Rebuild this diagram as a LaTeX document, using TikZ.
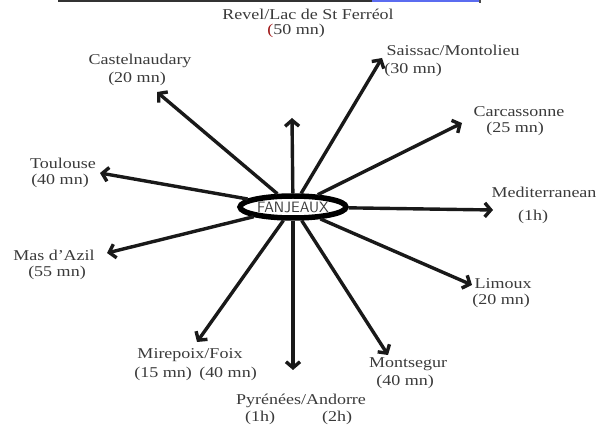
\documentclass[tikz,border=0pt]{standalone}
\usepackage{fontspec}
\setmainfont[FakeStretch=1.2]{Liberation Serif}
\usetikzlibrary{shapes.geometric,arrows.meta}
\definecolor{txt}{HTML}{3A3A3A}
\definecolor{topblue}{HTML}{5B6CF0}
\definecolor{redp}{HTML}{A01818}
\begin{document}
\begin{tikzpicture}[x=1pt,y=-1pt,
  lbl/.style={text=txt,font=\fontsize{15}{16}\selectfont,inner sep=0pt},
  arr/.style={line width=3.4pt,draw=black!90,-{Straight Barb[length=6pt,width=14pt]}},
  hub/.style={ellipse,draw=black,line width=5.5pt,minimum width=106pt,minimum height=22pt,inner sep=0pt,
    font=\sffamily\fontsize{15}{16}\selectfont,text=txt}]
\useasboundingbox (0,0) rectangle (598,427);
% top strip
\fill[black!80] (58,0) rectangle (372,1.6);
\fill[topblue] (372,0) rectangle (479,2.4);
\fill[black!70] (479,0) rectangle (481,3);
% tip coordinates
\coordinate (tRev) at (292,118);
\coordinate (tSai) at (382,58);
\coordinate (tCar) at (462,123);
\coordinate (tMed) at (493,210);
\coordinate (tLim) at (472,285);
\coordinate (tMon) at (388,355);
\coordinate (tPyr) at (293,370);
\coordinate (tMir) at (197,342);
\coordinate (tMas) at (107,253);
\coordinate (tTou) at (100,173);
\coordinate (tCas) at (157,92);
% hub
\node[hub] (F) at (293,207) {FANJEAUX};
\foreach \t in {Rev,Sai,Car,Med,Lim,Mon,Pyr,Mir,Mas,Tou,Cas}
  \draw[arr] (F) -- (t\t);
% labels
\node[lbl] (rev1) at (308,14) {Revel/Lac de St Ferréol};
\node[lbl] (rev2) at (296,31) {\textcolor{redp}{(}50 mn)};
\node[lbl] (sai1) at (453,50) {Saissac/Montolieu};
\node[lbl] (sai2) at (413,70) {(30 mn)};
\node[lbl] (cas1) at (140,61) {Castelnaudary};
\node[lbl] (cas2) at (137,79) {(20 mn)};
\node[lbl] (tou1) at (63,163) {Toulouse};
\node[lbl] (tou2) at (60,181) {(40 mn)};
\node[lbl] (car1) at (519,112) {Carcassonne};
\node[lbl] (car2) at (515,129) {(25 mn)};
\node[lbl] (med1) at (544,192) {Mediterranean};
\node[lbl] (med2) at (533,217) {(1h)};
\node[lbl] (lim1) at (503,284) {Limoux};
\node[lbl] (lim2) at (501,301) {(20 mn)};
\node[lbl] (mon1) at (408,364) {Montsegur};
\node[lbl] (mon2) at (405,382) {(40 mn)};
\node[lbl] (pyr1) at (301,401) {Pyrénées/Andorre};
\node[lbl] (pyr2) at (260,418) {(1h)};
\node[lbl] (pyr3) at (337,418) {(2h)};
\node[lbl] (mir1) at (190,355) {Mirepoix/Foix};
\node[lbl] (mir2) at (163,374) {(15 mn)};
\node[lbl] (mir3) at (228,374) {(40 mn)};
\node[lbl] (mas1) at (54,255) {Mas d'Azil};
\node[lbl] (mas2) at (57,273) {(55 mn)};
\end{tikzpicture}
\end{document}
